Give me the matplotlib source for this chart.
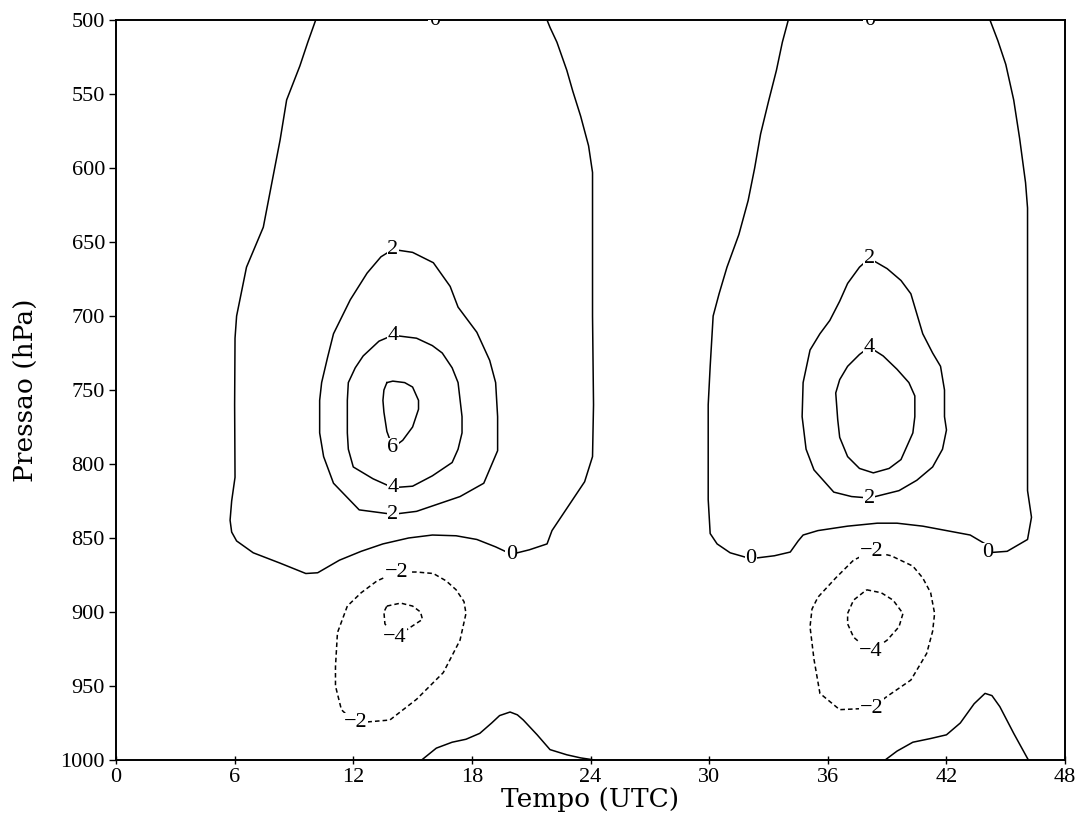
import matplotlib.pyplot as plt

# Isolines of the diurnal field, as (time UTC [h], pressure [hPa]) vertices
zero_day1 = [(10.1, 500), (9.7, 515), (9.3, 531), (8.63, 554), (8.3, 581), (8.04, 599),
             (7.45, 640), (6.6, 667), (6.1, 700), (6.02, 715), (6.0, 760), (6.02, 809),
             (5.85, 825), (5.77, 838), (5.85, 846), (6.1, 852), (6.94, 860), (8.3, 867),
             (9.6, 874), (10.2, 873.5), (11.3, 865), (12.4, 859), (13.5, 854), (14.8, 850),
             (16.0, 848), (17.2, 848.5), (18.25, 851), (19.2, 856), (20.0, 861), (20.9, 858),
             (21.8, 854), (22.05, 845), (22.6, 834), (23.1, 824), (23.7, 812), (24.1, 795),
             (24.15, 760), (24.1, 700), (24.1, 603), (23.9, 585), (23.5, 565), (23.1, 548),
             (22.8, 534), (22.3, 515), (21.95, 505), (21.8, 500)]
zero_day2 = [(34.0, 500), (33.7, 515), (33.4, 534), (33.0, 555), (32.6, 577), (32.3, 600),
             (31.97, 622), (31.5, 645), (30.9, 667), (30.5, 685), (30.2, 700), (30.05, 734),
             (29.95, 760), (29.95, 824), (30.05, 847), (30.4, 854), (31.06, 860), (32.1, 864),
             (33.3, 862), (34.1, 859.5), (34.5, 852), (34.75, 848), (35.5, 845), (37.0, 842),
             (38.5, 840), (39.5, 840), (40.8, 842), (42.0, 845), (43.2, 848), (43.96, 854),
             (44.06, 860), (45.07, 859), (46.1, 851), (46.3, 836), (46.1, 818), (46.1, 757),
             (46.1, 627), (46.0, 610), (45.7, 580), (45.4, 554), (45.0, 530), (44.6, 514),
             (44.2, 500)]
sfc_day1 = [(15.46, 1000), (16.2, 992), (17.0, 988), (17.7, 986), (18.4, 982), (19.0, 975),
            (19.4, 970), (19.93, 967.6), (20.3, 969.5), (20.6, 973), (21.3, 983), (21.95, 993),
            (22.8, 996.5), (23.5, 998.6), (24.2, 1000)]
sfc_day2 = [(38.9, 1000), (39.5, 994), (40.3, 988), (41.2, 985.5), (42.0, 983), (42.7, 975),
            (43.4, 962), (43.95, 955), (44.3, 956.5), (44.7, 964), (45.4, 982), (46.1, 999),
            (46.15, 1000)]
pos2_day1 = [(14.0, 655), (15.0, 657), (16.05, 664), (16.9, 680), (17.3, 694), (18.25, 711),
             (18.9, 730), (19.2, 745), (19.3, 768), (19.3, 791), (18.6, 813), (17.4, 822),
             (15.2, 832), (14.0, 834), (12.3, 831), (11.0, 813), (10.5, 795), (10.3, 779),
             (10.3, 757), (10.4, 745), (10.7, 728), (11.0, 712), (11.85, 689), (12.7, 671),
             (13.4, 660), (14.0, 655)]
pos4_day1 = [(14.0, 713), (15.2, 715), (16.0, 720), (16.5, 725), (17.0, 735), (17.3, 745),
             (17.5, 768), (17.5, 779), (17.3, 790), (17.0, 799), (16.0, 808), (15.0, 815),
             (14.0, 816), (13.0, 810), (12.0, 802), (11.75, 790), (11.7, 779), (11.7, 757),
             (11.75, 745), (12.1, 735), (12.5, 727), (13.3, 717), (14.0, 713)]
pos6_day1 = [(13.7, 745), (14.0, 744), (14.6, 745), (15.0, 748), (15.3, 757), (15.3, 763),
             (15.0, 775), (14.5, 784), (14.0, 789), (13.7, 778), (13.55, 765), (13.5, 757),
             (13.55, 750), (13.7, 745)]
pos2_day2 = [(38.1, 661), (39.0, 668), (39.7, 676), (40.2, 685), (40.8, 712), (41.3, 725),
             (41.7, 734), (41.9, 750), (41.9, 768), (42.0, 777), (41.8, 790), (41.3, 802),
             (40.5, 811), (39.6, 818), (38.1, 823), (37.2, 822), (36.3, 819), (35.3, 804),
             (34.9, 790), (34.8, 779), (34.7, 768), (34.75, 745), (35.1, 723), (35.6, 712),
             (36.1, 703), (36.6, 690), (37.0, 678), (37.6, 667), (38.1, 661)]
pos4_day2 = [(38.1, 721), (38.8, 727), (39.5, 736), (40.1, 745), (40.4, 754), (40.4, 768),
             (40.3, 779), (39.7, 797), (39.1, 803), (38.3, 806), (37.6, 803), (37.0, 795),
             (36.6, 782), (36.5, 770), (36.4, 752), (36.6, 743), (37.0, 734), (37.6, 726),
             (38.1, 721)]
neg2_day1 = [(14.2, 873), (15.2, 873), (16.05, 874), (16.7, 879), (17.2, 885), (17.6, 893),
             (17.7, 901), (17.4, 919), (16.9, 932), (16.55, 941), (15.2, 959), (13.85, 973),
             (12.1, 975), (11.4, 966), (11.1, 950), (11.1, 937), (11.2, 914), (11.7, 896),
             (12.4, 887), (13.2, 879), (14.2, 873)]
neg4_day1 = [(13.7, 896), (14.4, 894), (15.0, 896), (15.4, 900), (15.5, 905), (14.7, 912),
             (14.1, 917), (13.6, 908), (13.55, 900), (13.7, 896)]
neg2_day2 = [(38.2, 859), (39.2, 862), (40.3, 869), (40.8, 877), (41.2, 887), (41.4, 901),
             (41.3, 913), (41.0, 928), (40.6, 937), (40.2, 946), (39.0, 957), (38.2, 965),
             (36.6, 966), (35.6, 955), (35.3, 932), (35.1, 910), (35.2, 898), (35.5, 890),
             (36.4, 877), (37.3, 865), (38.2, 859)]
neg4_day2 = [(37.96, 885), (38.7, 887), (39.3, 892), (39.8, 901), (39.6, 910), (39.0, 919),
             (38.17, 927), (37.3, 917), (37.0, 908), (37.0, 901), (37.3, 892), (37.96, 885)]

# (level, vertices, label positions)
isolines = [
    (0, zero_day1, [(20.0, 861), (16.1, 500)]),
    (0, zero_day2, [(32.1, 864), (44.06, 860), (38.1, 500)]),
    (0, sfc_day1, []),
    (0, sfc_day2, []),
    (2, pos2_day1, [(14.0, 655), (14.0, 834)]),
    (4, pos4_day1, [(14.0, 713), (14.0, 816)]),
    (6, pos6_day1, [(14.0, 789)]),
    (2, pos2_day2, [(38.1, 661), (38.1, 823)]),
    (4, pos4_day2, [(38.1, 721)]),
    (-2, neg2_day1, [(14.2, 873), (12.1, 975)]),
    (-4, neg4_day1, [(14.1, 917)]),
    (-2, neg2_day2, [(38.2, 859), (38.2, 965)]),
    (-4, neg4_day2, [(38.17, 927)]),
]

time_ticks = list(range(0, 49, 6))
pressure_ticks = list(range(500, 1001, 50))

fig = plt.figure(figsize=(10.81, 8.24), dpi=100)
ax = fig.add_axes([0.1073, 0.0777, 0.878, 0.898])

for level, verts, labels in isolines:
    t = [v[0] for v in verts]
    p = [v[1] for v in verts]
    ls = '-' if level >= 0 else (0, (3, 2))
    ax.plot(t, p, color='black', lw=1.1, ls=ls, zorder=2)
    txt = str(level).replace('-', '\u2212')
    for lt, lp in labels:
        ax.text(lt, lp, txt, ha='center', va='center', fontsize=16,
                family='Liberation Serif', zorder=4, clip_on=True,
                bbox=dict(fc='white', ec='none', pad=0.3))

ax.set_xlim(0, 48)
ax.set_ylim(1000, 500)
ax.set_xticks(time_ticks)
ax.set_yticks(pressure_ticks)
ax.tick_params(axis='x', direction='inout', length=6, width=1.0, pad=3, labelsize=16)
ax.tick_params(axis='y', direction='out', length=5, width=1.0, pad=3, labelsize=16)
for lab in ax.get_xticklabels() + ax.get_yticklabels():
    lab.set_family('Liberation Serif')
for s in ax.spines.values():
    s.set_linewidth(1.4)

ax.set_xlabel('Tempo (UTC)', family='DejaVu Serif', fontsize=19)
ax.set_ylabel('Pressao (hPa)', family='DejaVu Serif', fontsize=19)
ax.xaxis.set_label_coords(0.5, -0.037)
ax.yaxis.set_label_coords(-0.082, 0.5)

fig.savefig('out.png', dpi=100)
